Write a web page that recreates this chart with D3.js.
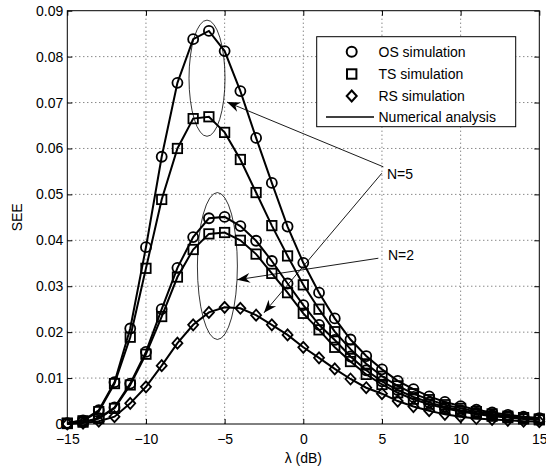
<!DOCTYPE html>
<html><head><meta charset="utf-8">
<script src="https://cdn.jsdelivr.net/npm/d3@7"></script>
<style>body{margin:0;background:#fff}text{font-family:"Liberation Sans",Arial,sans-serif;}</style>
</head><body><svg id="c" width="546" height="468"></svg>
<script>
const lambda = [-15,-14,-13,-12,-11,-10,-9,-8,-7,-6,-5,-4,-3,-2,-1,0,1,2,3,4,5,6,7,8,9,10,11,12,13,14,15];
const osN5 = [0.0002,0.0008,0.0030,0.0091,0.0208,0.0385,0.0582,0.0743,0.0838,0.0856,0.0812,0.0725,0.0623,0.0525,0.0430,0.0351,0.0286,0.0230,0.0184,0.0148,0.0119,0.0094,0.0076,0.0060,0.0048,0.0039,0.0031,0.0025,0.0020,0.0016,0.0013];
const tsN5 = [0.0002,0.0007,0.0027,0.0088,0.0189,0.0339,0.0489,0.0600,0.0665,0.0669,0.0635,0.0576,0.0504,0.0432,0.0366,0.0303,0.0250,0.0201,0.0163,0.0131,0.0104,0.0083,0.0066,0.0053,0.0042,0.0034,0.0027,0.0022,0.0017,0.0014,0.0011];
const osN2 = [0.0001,0.0004,0.0013,0.0036,0.0088,0.0157,0.0250,0.0340,0.0407,0.0448,0.0451,0.0431,0.0399,0.0355,0.0306,0.0259,0.0216,0.0183,0.0147,0.0117,0.0093,0.0074,0.0059,0.0047,0.0037,0.0030,0.0024,0.0019,0.0015,0.0012,0.0010];
const tsN2 = [0.0001,0.0004,0.0012,0.0034,0.0085,0.0152,0.0234,0.0320,0.0380,0.0414,0.0417,0.0400,0.0370,0.0328,0.0286,0.0241,0.0205,0.0167,0.0136,0.0108,0.0086,0.0068,0.0054,0.0043,0.0034,0.0027,0.0022,0.0017,0.0014,0.0011,0.0009];
const rs   = [0.0000,0.0002,0.0006,0.0016,0.0045,0.0081,0.0127,0.0176,0.0216,0.0243,0.0254,0.0252,0.0237,0.0216,0.0194,0.0167,0.0144,0.0120,0.0098,0.0079,0.0066,0.0050,0.0038,0.0029,0.0021,0.0016,0.0012,0.0010,0.0008,0.0006,0.0005];
const xTicks = [-15,-10,-5,0,5,10,15];
const yTicks = [0,0.01,0.02,0.03,0.04,0.05,0.06,0.07,0.08,0.09];
const legendLabels = ["OS simulation","TS simulation","RS simulation","Numerical analysis"];

const svg = d3.select("#c");
const L=67.3, R=539.3, T=10.7, B=424;
const x = d3.scaleLinear().domain([-15,15]).range([L,R]);
const y = d3.scaleLinear().domain([0,0.09]).range([B,T]);

// grid
const g = svg.append("g");
g.selectAll(".gx").data(xTicks.slice(1,-1)).enter().append("line")
 .attr("x1",d=>x(d)).attr("x2",d=>x(d)).attr("y1",T).attr("y2",B)
 .attr("stroke","#555").attr("stroke-width",1).attr("stroke-dasharray","1,3");
g.selectAll(".gy").data(yTicks.slice(1,-1)).enter().append("line")
 .attr("y1",d=>y(d)).attr("y2",d=>y(d)).attr("x1",L).attr("x2",R)
 .attr("stroke","#555").attr("stroke-width",1).attr("stroke-dasharray","1,3");

// axes
const fmtY = d => d===0 ? "0" : d3.format(".2f")(d);
const fmtX = d => d<0 ? "\u2212"+Math.abs(d) : String(d);
const ax = svg.append("g").attr("transform",`translate(0,${B})`)
 .call(d3.axisBottom(x).tickValues(xTicks).tickSizeInner(-5).tickSizeOuter(0).tickPadding(10).tickFormat(fmtX));
const axT = svg.append("g").attr("transform",`translate(0,${T})`)
 .call(d3.axisTop(x).tickValues(xTicks).tickSizeInner(-5).tickSizeOuter(0).tickFormat(""));
const ay = svg.append("g").attr("transform",`translate(${L},0)`)
 .call(d3.axisLeft(y).tickValues(yTicks).tickSizeInner(-5).tickSizeOuter(0).tickPadding(4).tickFormat(fmtY));
const ayR = svg.append("g").attr("transform",`translate(${R},0)`)
 .call(d3.axisRight(y).tickValues(yTicks).tickSizeInner(-5).tickSizeOuter(0).tickFormat(""));
[ax,axT,ay,ayR].forEach(a=>{a.select(".domain").remove();a.selectAll("text").attr("font-size",14).attr("fill","#000").style("font-family","'Liberation Sans',Arial,sans-serif");a.selectAll("line").attr("stroke","#000");});
svg.append("rect").attr("x",L).attr("y",T).attr("width",R-L).attr("height",B-T).attr("fill","none").attr("stroke","#000").attr("stroke-width",1);

svg.append("text").attr("x",x(0)).attr("y",463).attr("text-anchor","middle").attr("font-size",14).text("\u03bb (dB)");
svg.append("text").attr("transform",`translate(17,${(T+B)/2}) rotate(-90)`).attr("text-anchor","middle").attr("dominant-baseline","central").attr("font-size",14).text("SEE");

// data
const series = [
 {v:osN5, m:"o"},{v:tsN5, m:"s"},{v:osN2, m:"o"},{v:tsN2, m:"s"},{v:rs, m:"d"}
];
const line = d3.line().x((d,i)=>x(lambda[i])).y(d=>y(d));
const clip = svg.append("clipPath").attr("id","pc").append("rect").attr("x",L-8).attr("y",T).attr("width",R-L+16).attr("height",B-T+8);
const pg = svg.append("g");
series.forEach(s=>{
  pg.append("path").attr("d",line(s.v)).attr("fill","none").attr("stroke","#000").attr("stroke-width",2);
});
function marker(sel,m,cx,cy){
  if(m==="o") sel.append("circle").attr("cx",cx).attr("cy",cy).attr("r",5);
  else if(m==="s") sel.append("rect").attr("x",cx-4.7).attr("y",cy-4.7).attr("width",9.4).attr("height",9.4);
  else sel.append("path").attr("d",`M${cx},${cy-5.5}L${cx+5},${cy}L${cx},${cy+5.5}L${cx-5},${cy}Z`);
}
const mg = pg.append("g").attr("fill","none").attr("stroke","#000").attr("stroke-width",1.8);
series.forEach(s=>{ s.v.forEach((d,i)=>marker(mg,s.m,x(lambda[i]),y(d))); });

// annotations (data coords)
const ellipses = [{cx:-6.12,cy:0.0753,rx:1.144,ry:0.01265},{cx:-5.46,cy:0.0344,rx:1.27,ry:0.0160}];
ellipses.forEach(e=>{
  svg.append("ellipse").attr("cx",x(e.cx)).attr("cy",y(e.cy)).attr("rx",x(e.cx+e.rx)-x(e.cx)).attr("ry",y(e.cy)-y(e.cy+e.ry))
   .attr("fill","none").attr("stroke","#000").attr("stroke-width",0.8);
});
const arrows = [
 {x1:5.09,y1:0.0560,x2:-4.85,y2:0.0701},
 {x1:4.99,y1:0.0546,x2:-2.50,y2:0.0242},
 {x1:4.77,y1:0.0361,x2:-4.21,y2:0.0314}
];
arrows.forEach(a=>{
  const X1=x(a.x1),Y1=y(a.y1),X2=x(a.x2),Y2=y(a.y2);
  svg.append("line").attr("x1",X1).attr("y1",Y1).attr("x2",X2).attr("y2",Y2).attr("stroke","#000").attr("stroke-width",0.9);
  const ang=Math.atan2(Y2-Y1,X2-X1)*180/Math.PI;
  svg.append("path").attr("d","M0,0L-13,-5L-9,0L-13,5Z").attr("transform",`translate(${X2},${Y2}) rotate(${ang})`).attr("fill","#000");
});
svg.append("text").attr("x",387).attr("y",178.5).attr("font-size",14).text("N=5");
svg.append("text").attr("x",388).attr("y",260).attr("font-size",14).text("N=2");

// legend
const lg = svg.append("g");
lg.append("rect").attr("x",316.7).attr("y",36.7).attr("width",199).attr("height",90).attr("fill","#fff").attr("stroke","#000").attr("stroke-width",1);
const ly=[51.7,74,96,117];
const lgm = lg.append("g").attr("fill","none").attr("stroke","#000").attr("stroke-width",2);
marker(lgm,"o",351.7,ly[0]); marker(lgm,"s",351.7,ly[1]); marker(lgm,"d",351.7,ly[2]);
lg.append("line").attr("x1",326).attr("x2",374).attr("y1",ly[3]).attr("y2",ly[3]).attr("stroke","#000").attr("stroke-width",1.5);
legendLabels.forEach((t,i)=>lg.append("text").attr("x",378.5).attr("y",ly[i]).attr("dominant-baseline","central").attr("font-size",14).text(t));
</script></body></html>
